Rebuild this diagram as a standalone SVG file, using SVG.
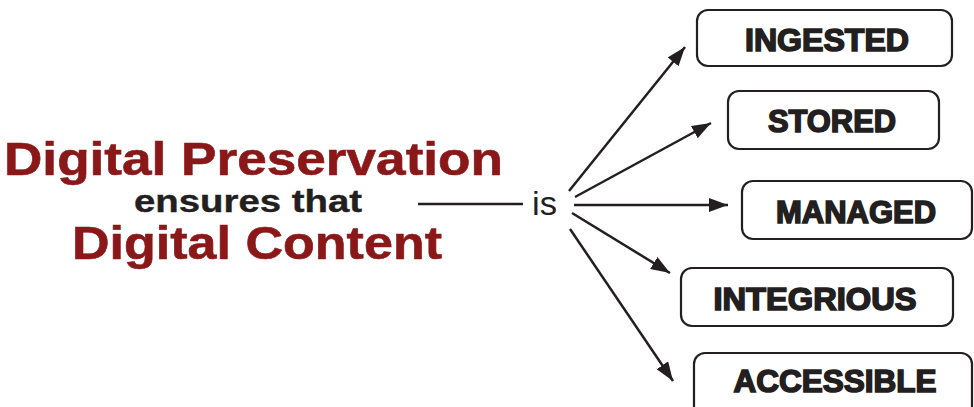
<svg xmlns="http://www.w3.org/2000/svg" width="974" height="407" viewBox="0 0 974 407">
<defs>
<style>
.box{fill:#fff;stroke:#231f20;stroke-width:2.2}
.lbl{font-family:"Liberation Sans",Arial,sans-serif;font-weight:bold;font-size:31px;fill:#231f20;stroke:#231f20;stroke-width:1.6;text-anchor:middle}
.red{font-family:"Liberation Sans",Arial,sans-serif;font-weight:bold;font-size:46px;fill:#8a1819;stroke:#8a1819;stroke-width:0.6}
.blk{font-family:"Liberation Sans",Arial,sans-serif;font-weight:bold;font-size:32px;fill:#231f20;stroke:#231f20;stroke-width:0.4}
.con{stroke:#231f20;stroke-width:2.5;fill:none}
</style>
<marker id="ah" viewBox="0 0 19 14" refX="19" refY="7" markerWidth="19" markerHeight="14" markerUnits="userSpaceOnUse" orient="auto">
<path d="M0,0 L19,7 L0,14 Z" fill="#231f20"/>
</marker>
</defs>
<rect width="974" height="407" fill="#fff"/>
<g id="title">
<text class="red" x="4" y="175" textLength="499" lengthAdjust="spacingAndGlyphs">Digital Preservation</text>
<text class="blk" x="134" y="212" textLength="228" lengthAdjust="spacingAndGlyphs">ensures that</text>
<text class="red" x="72" y="259" textLength="370" lengthAdjust="spacingAndGlyphs">Digital Content</text>
</g>
<g id="is">
<text x="532" y="215" font-family="Liberation Sans,Arial,sans-serif" font-size="34" fill="#231f20" textLength="25" lengthAdjust="spacingAndGlyphs">is</text>
</g>
<g id="connectors">
<line class="con" x1="418" y1="204" x2="523" y2="204"/>
<line class="con" x1="569" y1="191" x2="685" y2="47" marker-end="url(#ah)"/>
<line class="con" x1="575" y1="197" x2="711" y2="123" marker-end="url(#ah)"/>
<line class="con" x1="574" y1="205" x2="728" y2="205" marker-end="url(#ah)"/>
<line class="con" x1="572" y1="213" x2="670" y2="273" marker-end="url(#ah)"/>
<line class="con" x1="570" y1="229" x2="673" y2="381" marker-end="url(#ah)"/>
</g>
<g id="ingested">
<rect class="box" x="697" y="10" width="255" height="56" rx="11"/>
<text class="lbl" x="827" y="51" textLength="164" lengthAdjust="spacingAndGlyphs">INGESTED</text>
</g>
<g id="stored">
<rect class="box" x="728" y="91" width="211" height="58" rx="11"/>
<text class="lbl" x="832" y="132" textLength="128" lengthAdjust="spacingAndGlyphs">STORED</text>
</g>
<g id="managed">
<rect class="box" x="742" y="181" width="230" height="58" rx="11"/>
<text class="lbl" x="856" y="223" textLength="160" lengthAdjust="spacingAndGlyphs">MANAGED</text>
</g>
<g id="integrious">
<rect class="box" x="681" y="268" width="272" height="58" rx="11"/>
<text class="lbl" x="815" y="310" textLength="203" lengthAdjust="spacingAndGlyphs">INTEGRIOUS</text>
</g>
<g id="accessible">
<rect class="box" x="694" y="353" width="278" height="70" rx="11"/>
<text class="lbl" x="835" y="392" textLength="203" lengthAdjust="spacingAndGlyphs">ACCESSIBLE</text>
</g>
</svg>
